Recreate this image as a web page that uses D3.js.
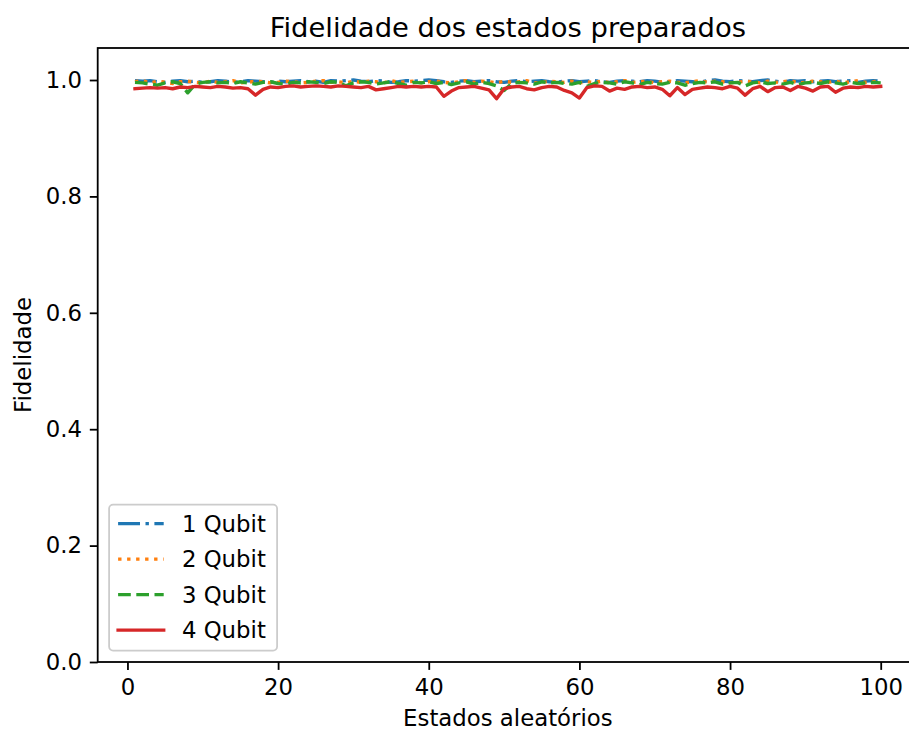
<!DOCTYPE html>
<html>
<head>
<meta charset="utf-8">
<script src="https://cdn.jsdelivr.net/npm/d3@7"></script>
<style>
	body { margin: 0; background: #fff; }
	text { font-family: "DejaVu Sans", sans-serif; fill: #000; }
</style>
</head>
<body>
<svg id="chart1"></svg>
<script>
// fidelity of each prepared random state, one list per qubit count
var estados = d3.range(1, 101);

var fid1 = [
	0.999, 0.998, 0.999, 0.997, 0.996, 0.998, 0.999, 0.997, 0.998, 0.996,
	0.997, 0.999, 0.998, 0.996, 0.997, 0.999, 0.998, 0.997, 0.996, 0.998,
	0.997, 0.998, 0.999, 0.997, 0.998, 0.996, 0.999, 0.998, 0.999, 1.000,
	0.998, 0.997, 0.999, 0.998, 0.996, 0.997, 0.999, 0.998, 0.999, 1.000,
	0.999, 0.997, 0.996, 0.998, 0.999, 0.997, 0.998, 0.999, 0.997, 0.996,
	0.998, 0.999, 0.997, 0.998, 0.999, 0.997, 0.996, 0.998, 0.999, 0.997,
	0.998, 0.999, 0.997, 0.996, 0.998, 0.999, 0.998, 0.997, 0.999, 0.998,
	0.996, 0.997, 0.999, 0.998, 0.997, 0.996, 0.999, 1.000, 0.998, 0.997,
	0.999, 0.998, 0.997, 0.999, 1.000, 0.998, 0.996, 0.999, 0.998, 0.999,
	0.997, 0.998, 0.999, 0.997, 0.998, 0.999, 0.996, 0.998, 0.999, 0.998
];

var fid2 = [
	0.997, 0.999, 0.995, 0.998, 0.996, 0.994, 0.997, 0.998, 0.996, 0.995,
	0.998, 0.996, 0.997, 0.999, 0.995, 0.996, 0.998, 0.997, 0.995, 0.996,
	0.998, 0.997, 0.995, 0.996, 0.998, 0.999, 0.996, 0.997, 0.995, 0.998,
	0.996, 0.998, 0.997, 0.995, 0.999, 0.996, 0.997, 0.998, 0.995, 0.997,
	0.998, 0.996, 0.995, 0.997, 0.999, 0.996, 0.998, 0.997, 0.995, 0.998,
	0.996, 0.997, 0.999, 0.995, 0.996, 0.998, 0.997, 0.996, 0.998, 0.995,
	0.997, 0.996, 0.998, 0.995, 0.997, 0.999, 0.996, 0.997, 0.998, 0.995,
	0.997, 0.998, 0.996, 0.995, 0.997, 0.999, 0.996, 0.998, 0.997, 0.995,
	0.996, 0.998, 0.997, 0.995, 0.998, 0.996, 0.997, 0.999, 0.995, 0.996,
	0.998, 0.997, 0.996, 0.998, 0.995, 0.997, 0.999, 0.996, 0.997, 0.998
];

var fid3 = [
	0.996, 0.995, 0.993, 0.991, 0.995, 0.997, 0.994, 0.978, 0.993, 0.996,
	0.997, 0.995, 0.996, 0.994, 0.997, 0.995, 0.993, 0.996, 0.997, 0.994,
	0.993, 0.996, 0.995, 0.997, 0.996, 0.994, 0.997, 0.996, 0.990, 0.995,
	0.997, 0.996, 0.993, 0.995, 0.997, 0.994, 0.991, 0.996, 0.995, 0.997,
	0.994, 0.996, 0.992, 0.995, 0.997, 0.993, 0.996, 0.994, 0.990, 0.982,
	0.994, 0.996, 0.995, 0.993, 0.997, 0.995, 0.996, 0.994, 0.993, 0.996,
	0.989, 0.994, 0.996, 0.995, 0.993, 0.997, 0.995, 0.992, 0.996, 0.994,
	0.993, 0.996, 0.995, 0.991, 0.994, 0.996, 0.995, 0.997, 0.993, 0.995,
	0.996, 0.990, 0.995, 0.997, 0.994, 0.995, 0.993, 0.996, 0.992, 0.995,
	0.996, 0.994, 0.997, 0.995, 0.993, 0.996, 0.994, 0.995, 0.996, 0.995
];

var fid4 = [
	0.985, 0.986, 0.987, 0.986, 0.987, 0.985, 0.988, 0.987, 0.989, 0.988,
	0.987, 0.989, 0.988, 0.986, 0.987, 0.985, 0.974, 0.984, 0.988, 0.987,
	0.989, 0.990, 0.988, 0.989, 0.990, 0.989, 0.988, 0.990, 0.989, 0.988,
	0.987, 0.989, 0.983, 0.985, 0.987, 0.989, 0.988, 0.989, 0.988, 0.989,
	0.988, 0.972, 0.981, 0.987, 0.988, 0.989, 0.986, 0.983, 0.968, 0.985,
	0.988, 0.989, 0.985, 0.983, 0.987, 0.989, 0.988, 0.982, 0.978, 0.969,
	0.987, 0.990, 0.989, 0.981, 0.986, 0.984, 0.988, 0.989, 0.987, 0.988,
	0.984, 0.973, 0.987, 0.975, 0.984, 0.986, 0.988, 0.987, 0.985, 0.989,
	0.986, 0.974, 0.985, 0.989, 0.980, 0.987, 0.988, 0.982, 0.989, 0.986,
	0.981, 0.988, 0.989, 0.979, 0.986, 0.988, 0.987, 0.989, 0.988, 0.989
];

var nomes = ["1 Qubit", "2 Qubit", "3 Qubit", "4 Qubit"];
var cores = ["#1f77b4", "#ff7f0e", "#2ca02c", "#d62728"];
var tracos = ["21.9,5.5,3.4,5.5", "3.4,5.6", "12.7,5.5", null];
var xTicks = [0, 20, 40, 60, 80, 100];
var yTicks = [0, 0.2, 0.4, 0.6, 0.8, 1.0];

desenha();

function desenha() {
	var width = 909, height = 731;
	var left = 97.7, top = 48, right = 918, bottom = 662;
	var fs = 22.8, tickLen = 7.9, pad = 7.9, lw = 3.4;

	var svg = d3.select('#chart1')
		.attr("width", width)
		.attr("height", height)
		;

	var x = d3.scaleLinear().domain([-3.95, 104.95]).range([left, right]);
	var y = d3.scaleLinear().domain([0, 1.055]).range([bottom, top]);

	var series = [fid1, fid2, fid3, fid4];

	svg.append("clipPath").attr("id", "area")
		.append("rect")
		.attr("x", left).attr("y", top)
		.attr("width", right - left).attr("height", bottom - top)
		;

	var linha = d3.line()
		.x(function (d, i) { return x(estados[i]); })
		.y(function (d) { return y(d); })
		;

	svg.append("g").attr("clip-path", "url(#area)")
		.selectAll("path")
		.data(series)
		.enter().append("path")
		.attr("d", linha)
		.attr("fill", "none")
		.attr("stroke", function (d, i) { return cores[i]; })
		.attr("stroke-width", lw)
		.attr("stroke-dasharray", function (d, i) { return tracos[i]; })
		.attr("stroke-linejoin", "round")
		.attr("stroke-linecap", function (d, i) { return tracos[i] ? "butt" : "square"; })
		;

	// axes with matplotlib-like ticks
	var xAxis = d3.axisBottom(x).tickValues(xTicks).tickSize(tickLen).tickPadding(pad).tickFormat(d3.format("d"));
	var yAxis = d3.axisLeft(y).tickValues(yTicks).tickSize(tickLen).tickPadding(pad).tickFormat(d3.format(".1f"));

	var gx = svg.append("g")
		.attr("transform", "translate(0," + bottom + ")")
		.call(xAxis)
		;
	var gy = svg.append("g")
		.attr("transform", "translate(" + left + ",0)")
		.call(yAxis)
		;

	[gx, gy].forEach(function (g) {
		g.select(".domain").remove();
		g.selectAll(".tick line").attr("stroke", "#000").attr("stroke-width", 1.8);
		g.selectAll(".tick text")
			.attr("font-family", "DejaVu Sans")
			.attr("font-size", fs)
			.attr("fill", "#000")
			;
	});
	gx.selectAll(".tick text").attr("dy", "0.76em");

	// spines (right one falls outside the picture)
	svg.append("rect")
		.attr("x", left).attr("y", top)
		.attr("width", right - left).attr("height", bottom - top)
		.attr("fill", "none")
		.attr("stroke", "#000")
		.attr("stroke-width", 1.8)
		;

	svg.append("text")
		.attr("x", (left + right) / 2)
		.attr("y", 37)
		.attr("text-anchor", "middle")
		.attr("font-size", 27.4)
		.text("Fidelidade dos estados preparados")
		;

	svg.append("text")
		.attr("x", (left + right) / 2)
		.attr("y", 726)
		.attr("text-anchor", "middle")
		.attr("font-size", fs)
		.text("Estados aleatórios")
		;

	svg.append("text")
		.attr("transform", "translate(31," + ((top + bottom) / 2) + ") rotate(-90)")
		.attr("text-anchor", "middle")
		.attr("font-size", fs)
		.text("Fidelidade")
		;

	// legend, lower left
	var bap = 0.5 * fs, rowH = 35.5;
	var lgW = 168, lgH = 146;
	var lg = svg.append("g")
		.attr("transform", "translate(" + (left + bap) + "," + (bottom - bap - lgH) + ")")
		;
	lg.append("rect")
		.attr("width", lgW)
		.attr("height", lgH)
		.attr("rx", 4)
		.attr("fill", "#fff")
		.attr("fill-opacity", 0.8)
		.attr("stroke", "#cccccc")
		.attr("stroke-width", 1.8)
		;
	var item = lg.selectAll("g.item")
		.data(nomes)
		.enter().append("g")
		.attr("class", "item")
		.attr("transform", function (d, i) { return "translate(0," + (19 + i * rowH) + ")"; })
		;
	item.append("line")
		.attr("x1", 9).attr("x2", 9 + 2 * fs)
		.attr("y1", 0).attr("y2", 0)
		.attr("stroke", function (d, i) { return cores[i]; })
		.attr("stroke-width", lw)
		.attr("stroke-dasharray", function (d, i) { return tracos[i]; })
		.attr("stroke-linecap", function (d, i) { return tracos[i] ? "butt" : "square"; })
		;
	item.append("text")
		.attr("x", 9 + 2.8 * fs)
		.attr("y", 0)
		.attr("dy", "0.36em")
		.attr("font-size", fs)
		.text(function (d) { return d; })
		;
}
</script>
</body>
</html>
